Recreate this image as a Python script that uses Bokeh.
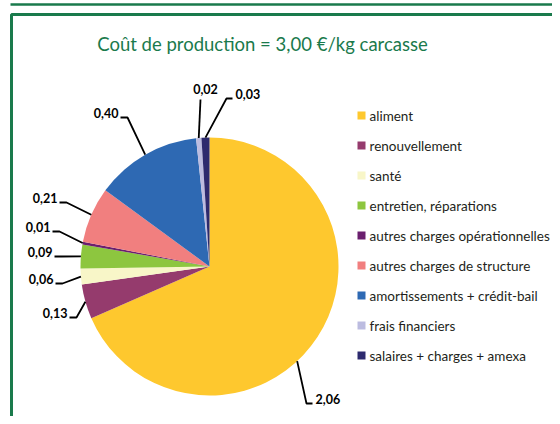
import math
from bokeh.plotting import figure
from bokeh.models import Range1d, ColumnDataSource
from bokeh.core.properties import value
from bokeh.embed import file_html
from bokeh.resources import INLINE

# ---- data ----
title_text = "Coût de production = 3,00 €/kg carcasse"
categories = ["aliment", "renouvellement", "santé", "entretien, réparations",
              "autres charges opérationnelles", "autres charges de structure",
              "amortissements + crédit-bail", "frais financiers",
              "salaires + charges + amexa"]
values = [2.06, 0.13, 0.06, 0.09, 0.01, 0.21, 0.40, 0.02, 0.03]
colors = ["#FEC82E", "#953B6D", "#F8F6C8", "#8DC63F", "#6A1F6E",
          "#F17F7F", "#2E69B3", "#BCBCE0", "#2D2A6E"]

# ---- layout / style ----
GREEN = "#1a7a4c"
FONT = "Lato"
CX, CY, R = 209, 266, 129
# label text anchor (x, y centre), alignment, anchor-angle shift (deg)
label_layout = [
    (315, 398, "left", 14),
    (67, 312, "right", 0),
    (53, 278, "right", 0),
    (52, 251, "right", 0),
    (50, 226, "right", 0),
    (57, 197, "right", 0),
    (118, 112, "right", 0),
    (205, 88, "center", 0),
    (235, 93, "left", 0),
]

W, H = 552, 416
p = figure(width=W, height=H, output_backend="svg", toolbar_location=None,
           x_range=Range1d(0, W), y_range=Range1d(-H, 0),
           min_border=0, min_border_left=0, min_border_right=0,
           min_border_top=0, min_border_bottom=0)
p.axis.visible = False
p.grid.visible = False
p.outline_line_color = None
p.background_fill_color = "white"

# frame lines
p.line([10, 560], [-4, -4], line_color=GREEN, line_width=2.5)
p.line([11, 11, 560], [-424, -14, -14], line_color=GREEN, line_width=3)

# title
p.text(x=[262], y=[-43], text=[title_text], text_font=value(FONT),
       text_font_size="18.5px", text_color=GREEN, text_align="center",
       text_baseline="middle")

# pie
total = sum(values)
starts, ends, mids = [], [], []
cum = 0.0
for v in values:
    a0 = cum / total
    cum += v
    a1 = cum / total
    starts.append(math.pi / 2 - a0 * 2 * math.pi)
    ends.append(math.pi / 2 - a1 * 2 * math.pi)
    mids.append((a0 + a1) / 2 * 360.0)
src = ColumnDataSource(dict(start=starts, end=ends, color=colors))
p.wedge(x=CX, y=-CY, radius=R, start_angle="start", end_angle="end",
        direction="clock", fill_color="color", line_color=None, source=src)

# labels + leader lines
for v, mid, (tx, ty, al, shift) in zip(values, mids, label_layout):
    lab = f"{v:.2f}".replace(".", ",")
    ang = math.radians(90 - (mid + shift))
    ex, ey = CX + R * math.cos(ang), CY - R * math.sin(ang)
    if al == "right":
        xs = [tx + 2, tx + 9, ex]
        ys = [ty + 5, ty + 5, ey]
    elif al == "left":
        xs = [tx - 3, tx - 9, ex]
        ys = [ty + 5, ty + 5, ey]
    else:
        xs = [tx - 5, ex]
        ys = [ty + 11, ey]
    p.line(xs, [-y for y in ys], line_color="black", line_width=1.8)
    p.text(x=[tx], y=[-ty], text=[lab], text_font=value(FONT),
           text_font_size="12.5px", text_font_style="bold", text_color="black",
           text_align=al, text_baseline="middle")

# legend
LX, LY, LSTEP = 361, 115, 30
for i, (c, col) in enumerate(zip(categories, colors)):
    y = LY + i * LSTEP
    p.rect(x=[LX], y=[-y], width=8, height=8, fill_color=col, line_color=None)
    p.text(x=[LX + 8], y=[-y], text=[c], text_font=value(FONT),
           text_font_size="13.5px", text_color="#231f20", text_align="left",
           text_baseline="middle")

open("out.html", "w").write(file_html(p, INLINE))
